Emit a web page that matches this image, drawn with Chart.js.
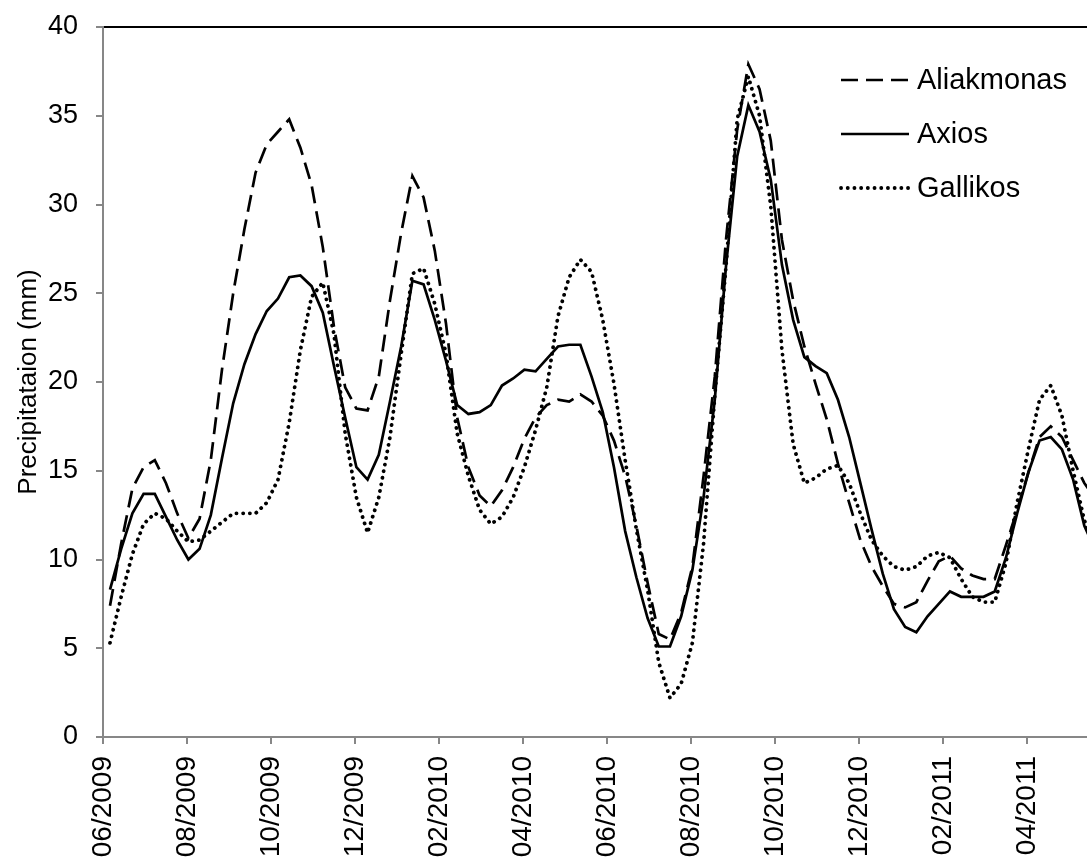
<!DOCTYPE html>
<html>
<head>
<meta charset="utf-8">
<script src="https://cdn.jsdelivr.net/npm/chart.js@4.4.0/dist/chart.umd.min.js"></script>
<style>
  html, body { margin: 0; padding: 0; background: #fff; overflow: hidden; }
</style>
</head>
<body>
<canvas id="myChart" width="1087" height="862"></canvas>
<script>
// X AXIS: tick labels every 2 months, position in months from 06/2009
var tickLabels = ["06/2009", "08/2009", "10/2009", "12/2009", "02/2010", "04/2010",
  "06/2010", "08/2010", "10/2010", "12/2010", "02/2011", "04/2011"];
var tickMonths = [0, 2, 4, 6, 8, 10, 12, 14, 16, 18, 20, 22];
var axisEndMonth = 23.43;

// 8-day periods, first one starts ~06/06/2009 (in months from 06/2009)
var firstPeriod = 1 / 6;
var periodLength = 4 / 15;

// PRECIPITATION (mm)
var aliakmonas = [
  7.4, 10.9, 14.0, 15.2, 15.6, 14.3, 12.6, 11.2, 12.3, 15.6,
  20.7, 25.0, 28.6, 31.8, 33.4, 34.1, 34.8, 33.2, 31.1, 27.6,
  23.1, 19.7, 18.5, 18.4, 20.3, 24.6, 28.4, 31.6, 30.4, 27.4,
  23.3, 18.0, 15.2, 13.6, 13.0, 13.9, 15.2, 16.8, 18.0, 18.7,
  19.0, 18.9, 19.3, 18.9, 18.1, 16.7, 14.7, 11.9, 8.7, 5.8,
  5.5, 7.0, 9.6, 14.7, 20.3, 28.0, 34.2, 37.9, 36.5, 33.6,
  28.0, 24.6, 22.0, 19.9, 17.9, 15.4, 13.2, 11.1, 9.6, 8.5,
  7.5, 7.3, 7.6, 8.8, 9.9, 10.2, 9.5, 9.1, 8.9, 8.9,
  10.8, 12.8, 14.9, 16.9, 17.5, 16.9, 15.6, 14.3, 13.4
];
var axios = [
  8.3, 10.6, 12.6, 13.7, 13.7, 12.4, 11.1, 10.0, 10.6, 12.5,
  15.7, 18.8, 21.0, 22.7, 24.0, 24.7, 25.9, 26.0, 25.4, 23.9,
  20.9, 18.0, 15.2, 14.5, 15.9, 18.9, 22.0, 25.7, 25.5, 23.5,
  21.2, 18.7, 18.2, 18.3, 18.7, 19.8, 20.2, 20.7, 20.6, 21.3,
  22.0, 22.1, 22.1, 20.3, 18.3, 15.2, 11.6, 9.0, 6.7, 5.1,
  5.1, 6.8, 9.4, 13.5, 19.0, 26.5, 32.7, 35.6, 34.1, 31.4,
  26.6, 23.5, 21.4, 20.9, 20.5, 19.0, 16.9, 14.3, 11.7, 9.2,
  7.2, 6.2, 5.9, 6.8, 7.5, 8.2, 7.9, 7.9, 7.9, 8.2,
  10.1, 12.6, 14.9, 16.7, 16.9, 16.2, 14.5, 11.9, 10.5
];
var gallikos = [
  5.3, 7.9, 10.3, 12.0, 12.6, 12.3, 11.6, 11.0, 11.1, 11.6,
  12.1, 12.6, 12.6, 12.6, 13.2, 14.5, 17.7, 21.8, 24.8, 25.6,
  22.7, 17.1, 13.5, 11.5, 13.5, 16.9, 21.6, 26.1, 26.4, 24.4,
  21.6, 17.1, 14.7, 12.8, 12.0, 12.4, 13.5, 15.2, 17.3, 19.7,
  23.7, 25.9, 26.9, 26.2, 23.5, 19.9, 15.6, 11.7, 8.3, 4.2,
  2.2, 3.0, 5.3, 10.9, 19.2, 26.5, 34.8, 37.2, 35.0, 29.9,
  21.8, 16.5, 14.3, 14.6, 15.1, 15.3, 14.3, 12.6, 11.1, 10.2,
  9.6, 9.4, 9.6, 10.2, 10.4, 10.1, 8.9, 7.9, 7.6, 7.6,
  9.8, 13.2, 16.2, 19.0, 19.8, 18.1, 15.0, 12.2, 10.8
];

function toPoints(values) {
  return values.map(function (v, i) {
    return { x: firstPeriod + i * periodLength, y: v };
  });
}

var FONT = "'Liberation Sans', Arial, sans-serif";
var AXIS_GREY = "#878787";

// legend drawn inside the plot, top right
var insideLegend = {
  id: "insideLegend",
  afterDatasetsDraw: function (chart) {
    var ctx = chart.ctx;
    var area = chart.chartArea;
    var x0 = area.left + 738;
    var y0 = area.top + 53;
    chart.data.datasets.forEach(function (ds, i) {
      var y = y0 + i * 54;
      ctx.save();
      ctx.strokeStyle = ds.borderColor;
      ctx.lineWidth = ds.borderWidth;
      ctx.lineCap = ds.borderCapStyle || "butt";
      ctx.setLineDash(ds.borderDash || []);
      ctx.beginPath();
      ctx.moveTo(x0, y);
      ctx.lineTo(x0 + 68, y);
      ctx.stroke();
      ctx.setLineDash([]);
      ctx.fillStyle = "#000";
      ctx.font = "29px " + FONT;
      ctx.textBaseline = "middle";
      ctx.fillText(ds.label, x0 + 76, y + 1);
      ctx.restore();
    });
  },
};

window.onload = function () {
  Chart.defaults.font.family = FONT;
  Chart.defaults.color = "#000";

  var ctx = document.getElementById("myChart").getContext("2d");
  var myChart = new Chart(ctx, {
    type: "line",
    data: {
      datasets: [
        {
          label: "Aliakmonas",
          data: toPoints(aliakmonas),
          borderColor: "#000",
          borderWidth: 2.7,
          borderDash: [17, 8],
          pointRadius: 0,
          tension: 0,
        },
        {
          label: "Axios",
          data: toPoints(axios),
          borderColor: "#000",
          borderWidth: 2.7,
          pointRadius: 0,
          tension: 0,
        },
        {
          label: "Gallikos",
          data: toPoints(gallikos),
          borderColor: "#000",
          borderWidth: 3.8,
          borderDash: [0.1, 6.6],
          borderCapStyle: "round",
          pointRadius: 0,
          tension: 0,
        },
      ],
    },
    options: {
      responsive: false,
      animation: false,
      devicePixelRatio: 1,
      layout: { padding: { top: 27, right: 0, bottom: 0, left: 0 } },
      plugins: {
        legend: { display: false },
        tooltip: { enabled: false },
      },
      scales: {
        x: {
          type: "linear",
          min: 0,
          max: axisEndMonth,
          afterBuildTicks: function (scale) {
            scale.ticks = tickMonths.map(function (m) {
              return { value: m };
            });
          },
          afterFit: function (scale) {
            scale.height = 125;
          },
          ticks: {
            autoSkip: false,
            minRotation: 90,
            maxRotation: 90,
            padding: 12,
            font: { size: 28 },
            callback: function (value, index) {
              return tickLabels[index];
            },
          },
          grid: {
            drawOnChartArea: false,
            tickLength: 7,
            color: AXIS_GREY,
            lineWidth: 2,
          },
          border: { color: AXIS_GREY, width: 2 },
        },
        xTop: {
          type: "linear",
          position: "top",
          min: 0,
          max: 1,
          afterFit: function (scale) {
            scale.height = 0;
          },
          grid: { display: false, drawTicks: false },
          ticks: { display: false },
          border: { display: true, color: "#000", width: 2 },
        },
        y: {
          min: 0,
          max: 40,
          afterFit: function (scale) {
            scale.width = 103;
            scale.paddingTop = 16;
            scale.paddingBottom = 16;
          },
          ticks: { stepSize: 5, padding: 18, font: { size: 27 } },
          grid: {
            drawOnChartArea: false,
            tickLength: 7,
            color: AXIS_GREY,
            lineWidth: 2,
          },
          border: { color: AXIS_GREY, width: 2 },
          title: {
            display: true,
            text: "Precipitataion (mm)",
            font: { size: 26 },
            padding: { top: 13, bottom: 5 },
          },
        },
      },
    },
    plugins: [insideLegend],
  });
};
</script>
</body>
</html>
